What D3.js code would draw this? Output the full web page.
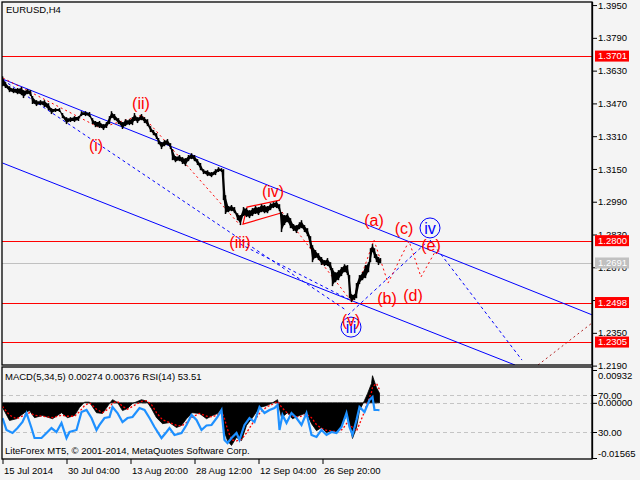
<!DOCTYPE html>
<html><head><meta charset="utf-8">
<script src="https://cdn.jsdelivr.net/npm/d3@7"></script>
<style>
body{margin:0;background:#f4f4f4;}
svg{display:block;font-family:"Liberation Sans",Arial,sans-serif;}
</style>
</head><body>
<svg id="c" width="640" height="480"></svg>
<script>
// ---------- DATA ----------
const symbolTitle = "EURUSD,H4";
const barIdx = [0,3,7,11,15,19,21,25,28,30,34,38,42,46,49,53,57,60,64,68,72,76,79,83,87,90,93,97,101,104,107,109,112,116,120,123,127,130,132,135,139,142,145,148,151,154,156,159,162,165,168,170,173,177,180,183,186,189,192,195,198,201,205,209,213,216,219,221,223,226,229,232,235,238,241,244,247,250,253,256,259,262,265,268,271,274,277,279,282,285,288,291,294,297,299,302,305,308,310,313,316,319,322,325,328,330,333,336,339,342,345,347,349,352,354,357,360,363,366,368,370,372,374,376,378];
const highs = [1.3603,1.3574,1.3554,1.3545,1.3545,1.3550,1.3535,1.3540,1.3535,1.3506,1.3486,1.3486,1.3486,1.3471,1.3447,1.3447,1.3447,1.3423,1.3403,1.3403,1.3408,1.3408,1.3432,1.3432,1.3428,1.3398,1.3384,1.3384,1.3369,1.3379,1.3408,1.3432,1.3418,1.3398,1.3379,1.3393,1.3393,1.3403,1.3423,1.3403,1.3418,1.3403,1.3393,1.3359,1.3340,1.3325,1.3301,1.3281,1.3291,1.3296,1.3276,1.3247,1.3213,1.3218,1.3208,1.3203,1.3218,1.3227,1.3218,1.3198,1.3179,1.3149,1.3144,1.3135,1.3149,1.3159,1.3154,1.3149,1.3022,1.2969,1.2974,1.2964,1.2934,1.2925,1.2964,1.2959,1.2949,1.2959,1.2969,1.2964,1.2978,1.2974,1.2969,1.2983,1.2988,1.2993,1.2978,1.2939,1.2925,1.2934,1.2910,1.2881,1.2876,1.2890,1.2900,1.2876,1.2861,1.2822,1.2778,1.2754,1.2739,1.2720,1.2705,1.2715,1.2695,1.2666,1.2646,1.2656,1.2671,1.2685,1.2681,1.2632,1.2539,1.2539,1.2593,1.2632,1.2646,1.2681,1.2695,1.2763,1.2783,1.2763,1.2734,1.2720,1.2715];
const lows = [1.3554,1.3545,1.3525,1.3520,1.3515,1.3510,1.3496,1.3515,1.3506,1.3467,1.3457,1.3462,1.3452,1.3437,1.3418,1.3428,1.3428,1.3398,1.3369,1.3379,1.3379,1.3384,1.3408,1.3408,1.3403,1.3369,1.3354,1.3350,1.3340,1.3350,1.3369,1.3398,1.3388,1.3369,1.3345,1.3359,1.3364,1.3364,1.3384,1.3374,1.3388,1.3374,1.3359,1.3330,1.3315,1.3296,1.3271,1.3247,1.3261,1.3266,1.3247,1.3193,1.3183,1.3188,1.3174,1.3164,1.3188,1.3198,1.3188,1.3169,1.3144,1.3125,1.3115,1.3110,1.3120,1.3135,1.3135,1.2998,1.2930,1.2939,1.2944,1.2934,1.2900,1.2876,1.2920,1.2915,1.2910,1.2920,1.2930,1.2925,1.2939,1.2934,1.2934,1.2949,1.2959,1.2959,1.2944,1.2842,1.2876,1.2890,1.2861,1.2847,1.2837,1.2856,1.2861,1.2842,1.2822,1.2763,1.2695,1.2715,1.2705,1.2681,1.2676,1.2676,1.2656,1.2578,1.2597,1.2607,1.2627,1.2646,1.2632,1.2519,1.2500,1.2510,1.2519,1.2588,1.2607,1.2617,1.2646,1.2695,1.2744,1.2715,1.2695,1.2681,1.2690];

const priceTicks = [1.3950,1.3790,1.3630,1.3470,1.3310,1.3150,1.2990,1.2830,1.2670,1.2510,1.2350,1.2190];
const hiddenPriceLabels = [1.2510];
const redLevels = [1.3701,1.2800,1.2498,1.2305];
const lastPrice = 1.2691;

const timeTickBars = [0,64,128,192,256,320];
const timeTickLabels = ["15 Jul 2014","30 Jul 04:00","13 Aug 20:00","28 Aug 12:00","12 Sep 04:00","26 Sep 20:00"];

// MACD(5,34,5) histogram & signal
const macdBars = [0,7,14,22,27,32,40,50,59,65,72,77,82,87,94,100,107,110,115,120,125,130,139,144,149,154,160,167,174,179,184,190,197,204,210,215,219,222,225,229,234,239,244,250,257,264,270,275,279,285,290,297,304,309,314,319,324,330,335,340,345,350,354,357,362,365,369,370,374,377];
const macdValues = [-0.0013,-0.0050,-0.0045,-0.0028,-0.0022,-0.0042,-0.0036,-0.0045,-0.0028,-0.0042,-0.0036,-0.0013,0.0002,0.0002,-0.0028,-0.0030,-0.0002,0.0009,0.0001,-0.0022,-0.0016,-0.0002,0.0009,0.0005,-0.0016,-0.0042,-0.0059,-0.0056,-0.0070,-0.0064,-0.0045,-0.0028,-0.0030,-0.0045,-0.0036,-0.0030,-0.0016,-0.0084,-0.0107,-0.0121,-0.0098,-0.0107,-0.0064,-0.0042,-0.0013,-0.0008,0.0000,0.0009,-0.0042,-0.0028,-0.0045,-0.0036,-0.0028,-0.0059,-0.0079,-0.0070,-0.0084,-0.0079,-0.0084,-0.0059,-0.0030,-0.0101,-0.0070,-0.0022,0.0007,0.0026,0.0055,0.0077,0.0043,0.00274];
const signalValues = [-0.0010,-0.0035,-0.0045,-0.0035,-0.0028,-0.0035,-0.0038,-0.0042,-0.0035,-0.0038,-0.0038,-0.0025,-0.0008,0.0000,-0.0018,-0.0028,-0.0015,0.0000,0.0004,-0.0010,-0.0018,-0.0010,0.0004,0.0006,-0.0005,-0.0028,-0.0048,-0.0056,-0.0064,-0.0066,-0.0056,-0.0040,-0.0030,-0.0038,-0.0040,-0.0034,-0.0025,-0.0045,-0.0075,-0.0105,-0.0108,-0.0104,-0.0085,-0.0058,-0.0030,-0.0012,-0.0004,0.0004,-0.0012,-0.0030,-0.0038,-0.0040,-0.0032,-0.0042,-0.0062,-0.0072,-0.0078,-0.0080,-0.0082,-0.0075,-0.0055,-0.0070,-0.0080,-0.0060,-0.0025,0.0002,0.0030,0.0045,0.0055,0.00376];

// RSI(14)
const rsiBars = [0,4,10,15,20,24,29,32,39,44,49,54,59,64,67,74,79,84,89,94,97,102,107,110,115,120,125,130,137,142,147,152,159,164,167,172,179,184,189,194,199,204,209,215,219,222,225,229,234,237,242,247,252,257,262,267,272,275,277,280,284,289,294,299,304,309,314,319,324,329,334,339,344,347,350,354,357,362,367,370,372,375,377];
const rsiValues = [45.1,32.2,28.9,34.3,40.8,50.5,34.3,23.5,23.5,28.9,34.3,30.0,39.7,23.5,30.0,32.2,51.6,53.8,45.1,32.2,37.6,45.1,46.2,57.0,50.5,40.8,45.1,46.2,55.9,53.8,45.1,35.4,23.5,30.0,34.3,26.8,28.9,37.6,48.4,43.0,32.2,37.0,37.6,46.2,53.8,21.4,18.1,23.5,28.9,21.4,37.6,45.1,40.8,57.0,50.5,53.8,55.9,59.2,32.2,48.4,39.7,50.5,45.1,37.6,50.5,26.8,24.6,32.2,26.8,30.0,28.9,35.4,50.5,35.4,26.8,43.0,57.0,51.6,64.6,67.8,53.8,53.8,53.51];
const rsiLevels = [70,30];
const macdTicks = [0.00932,0.0,-0.01565];

// Elliott wave annotations: [bar, price]
const upperChannel = [[0,1.3589],[590,1.2437]];
const lowerChannel = [[0,1.3179],[512.5,1.2193]];
const dashedA = [[0.5,1.3584],[343.5,1.2461]];
const dashedB = [[237.5,1.2784],[349.5,1.2505]];
const dashedVtoIV = [[345.5,1.2437],[425.5,1.2798]];
const dashedIVdown = [[427.5,1.2803],[519.5,1.2217]];
const brownProjection = [[535.5,1.2193],[589.5,1.2398]];
const waveImpulse = [[0.5,1.3594],[97.5,1.3350],[139.5,1.3413],[237.5,1.2876]];
const waveCorrection = [[279.5,1.2940],[349.5,1.2500],[371.5,1.2803],[385.5,1.2593],[406.5,1.2798],[418.5,1.2623],[432.5,1.2745]];
const triangle = [[278.5,1.2935],[240.5,1.2881],[244.5,1.2964],[277.5,1.2998]];
const waveLabels = [["(i)",93.5,1.3267],["(ii)",138.5,1.3472],["(iii)",237.5,1.2793],["(iv)",270.5,1.3042],["(a)",371.5,1.2901],["(b)",384.5,1.2520],["(c)",401.5,1.2862],["(d)",410.5,1.2535],["(e)",428.5,1.2779]];
const circledLabels = [["iv",427.5,1.2862],["iii",348.5,1.2378]];
const overLabel = ["(v)",348.5,1.2413];

const macdHeader = "MACD(5,34,5) 0.00274 0.00376 RSI(14) 53.51";
const footer = "LiteForex MT5, \u00A9 2001-2014, MetaQuotes Software Corp.";

// ---------- DRAW ----------
const svg = d3.select("#c");
const L=2, R=592, T=2, B=365, IT=367, IB=459;
const x = d3.scaleLinear().domain([0,590]).range([2.5,592.5]);
const y = d3.scaleLinear().domain([1.2193,1.3965]).range([B,T]);
const my = d3.scaleLinear().domain([-0.01565,0.00932]).range([458,370]);
const ry = d3.scaleLinear().domain([0,100]).range([459.75,367.25]);

svg.append("rect").attr("width",640).attr("height",480).attr("fill","#f4f4f4");
const defs = svg.append("defs");
defs.append("clipPath").attr("id","cm").append("rect").attr("x",L).attr("y",T).attr("width",R-L).attr("height",B-T);
defs.append("clipPath").attr("id","ci").append("rect").attr("x",L).attr("y",IT).attr("width",R-L).attr("height",IB-IT);

const main = svg.append("g").attr("clip-path","url(#cm)");
const line = d3.line().x(d=>x(d[0])).y(d=>y(d[1]));

// horizontal levels
main.selectAll(".lvl").data(redLevels).join("line")
  .attr("x1",L).attr("x2",R).attr("y1",d=>Math.round(y(d))+0.5).attr("y2",d=>Math.round(y(d))+0.5)
  .attr("stroke","#ff0000").attr("stroke-width",1.2);
main.append("line").attr("x1",L).attr("x2",R).attr("y1",Math.round(y(lastPrice))+0.5).attr("y2",Math.round(y(lastPrice))+0.5)
  .attr("stroke","#c0c0c0").attr("stroke-width",1);

// channels
[upperChannel,lowerChannel].forEach(p=>main.append("path").attr("d",line(p)).attr("stroke","#0000ff").attr("stroke-width",1).attr("fill","none"));
[dashedA,dashedB,dashedVtoIV,dashedIVdown].forEach(p=>main.append("path").attr("d",line(p)).attr("stroke","#0000ff").attr("stroke-width",1).attr("stroke-dasharray","3,3").attr("fill","none"));
main.append("path").attr("d",line(brownProjection)).attr("stroke","#b22222").attr("stroke-width",1).attr("stroke-dasharray","2,3").attr("fill","none");
[waveImpulse,waveCorrection].forEach(p=>main.append("path").attr("d",line(p)).attr("stroke","#ff0000").attr("stroke-width",1).attr("stroke-dasharray","2,3").attr("fill","none"));
main.append("path").attr("d",line(triangle)).attr("stroke","#ff0000").attr("stroke-width",1.2).attr("fill","none");

// price bars
const pts = barIdx.map((b,i)=>({b,h:highs[i],l:lows[i]}));
main.append("path").datum(pts)
  .attr("d",d3.area().x(d=>x(d.b)).y0(d=>y(d.l)-1).y1(d=>y(d.h)+1))
  .attr("fill","#000").attr("stroke","none");
main.selectAll(".bar").data(pts).join("line")
  .attr("x1",d=>x(d.b)).attr("x2",d=>x(d.b)).attr("y1",d=>y(d.h)).attr("y2",d=>y(d.l))
  .attr("stroke","#000").attr("stroke-width",1.5);

// labels
main.selectAll(".wl").data(waveLabels).join("text")
  .attr("x",d=>x(d[1])).attr("y",d=>y(d[2])).attr("text-anchor","middle").attr("dy","0.35em")
  .attr("font-size",16).attr("fill","#ff0000").text(d=>d[0]);
circledLabels.forEach(d=>{
  main.append("circle").attr("cx",x(d[1])).attr("cy",y(d[2])).attr("r",10).attr("fill","none").attr("stroke","#0000ff").attr("stroke-width",1);
  main.append("text").attr("x",x(d[1])).attr("y",y(d[2])).attr("text-anchor","middle").attr("dy","0.35em")
    .attr("font-size",16).attr("fill","#0000ff").text(d[0]);
});
main.append("text").attr("x",x(overLabel[1])).attr("y",y(overLabel[2])).attr("text-anchor","middle").attr("dy","0.35em")
  .attr("font-size",16).attr("fill","#ff0000").text(overLabel[0]);

// title
svg.append("text").attr("x",6).attr("y",13).attr("font-size",9.5).attr("fill","#000").text(symbolTitle);

// ---------- indicator ----------
const ind = svg.append("g").attr("clip-path","url(#ci)");
[ry(70),my(0),ry(30)].forEach(v=>ind.append("line").attr("x1",L).attr("x2",R).attr("y1",Math.round(v)+0.5).attr("y2",Math.round(v)+0.5)
  .attr("stroke","#c4c4c4").attr("stroke-dasharray","4,3"));
const mpts = macdBars.map((b,i)=>({b,v:macdValues[i],s:signalValues[i]}));
ind.append("path").datum(mpts).attr("d",d3.area().x(d=>x(d.b)).y0(my(0)).y1(d=>my(d.v)))
  .attr("fill","#000").attr("stroke","#000").attr("stroke-width",0.8);
ind.append("path").datum(mpts).attr("d",d3.line().x(d=>x(d.b)).y(d=>my(d.s)))
  .attr("fill","none").attr("stroke","#ff0000").attr("stroke-width",1.3).attr("stroke-dasharray","2,2");
ind.append("path").datum(rsiBars.map((b,i)=>[b,rsiValues[i]])).attr("d",d3.line().x(d=>x(d[0])).y(d=>ry(d[1])))
  .attr("fill","none").attr("stroke","#1e90ff").attr("stroke-width",2.2);
svg.append("text").attr("x",5).attr("y",380).attr("font-size",9.5).text(macdHeader);
svg.append("text").attr("x",5).attr("y",454).attr("font-size",9.5).text(footer);

// ---------- frames ----------
svg.append("rect").attr("x",L).attr("y",T).attr("width",R-L).attr("height",B-T).attr("fill","none").attr("stroke","#000").attr("stroke-width",1.3);
svg.append("rect").attr("x",L).attr("y",IT).attr("width",R-L).attr("height",IB-IT).attr("fill","none").attr("stroke","#000").attr("stroke-width",1.3);

// ---------- axes ----------
const pAxis = svg.append("g").attr("transform",`translate(${R},0)`)
  .call(d3.axisRight(y).tickValues(priceTicks).tickSize(5).tickPadding(1)
    .tickFormat(d=>hiddenPriceLabels.includes(d)?"":d.toFixed(4)));
const mAxis = svg.append("g").attr("transform",`translate(${R},0)`)
  .call(d3.axisRight(my).tickValues(macdTicks).tickSize(5).tickPadding(1).tickFormat(d=>d.toFixed(5)));
const rAxis = svg.append("g").attr("transform",`translate(${R},0)`)
  .call(d3.axisRight(ry).tickValues(rsiLevels).tickSize(5).tickPadding(1).tickFormat(d=>d.toFixed(2)));
[pAxis,mAxis,rAxis].forEach(a=>{
  a.select(".domain").remove();
  a.selectAll("text").attr("font-size",9.5).attr("font-family","'Liberation Sans',Arial,sans-serif").attr("fill","#000");
  a.selectAll("line").attr("stroke","#000");
});
mAxis.selectAll(".tick text").attr("dy",d=>d>0.009?"0.85em":(d<-0.015?"-0.2em":"0.32em"));
svg.append("line").attr("x1",R+0.5).attr("x2",R+0.5).attr("y1",T).attr("y2",IB).attr("stroke","#000").attr("stroke-width",1.3);

// price boxes
const boxes = redLevels.map(v=>({v,c:"#ff0000"})).concat([{v:lastPrice,c:"#c0c0c0"}]);
const bg = svg.selectAll(".box").data(boxes).join("g");
bg.append("rect").attr("x",595).attr("y",d=>y(d.v)-5.5).attr("width",34).attr("height",11).attr("fill",d=>d.c);
bg.append("text").attr("x",598).attr("y",d=>y(d.v)).attr("dy","0.35em").attr("font-size",9.5).attr("fill","#fff").text(d=>d.v.toFixed(4));

// time axis
const tAxis = svg.append("g").attr("transform",`translate(0,${IB})`)
  .call(d3.axisBottom(x).tickValues(timeTickBars).tickSize(5).tickFormat((d,i)=>timeTickLabels[i]));
tAxis.select(".domain").remove();
tAxis.selectAll("line").attr("stroke","#000");
tAxis.selectAll("text").attr("text-anchor","start").attr("dx","0.1em").attr("y",6).attr("dy","0.9em")
  .attr("font-size",9.5).attr("font-family","'Liberation Sans',Arial,sans-serif").attr("fill","#000");
</script>
</body></html>
